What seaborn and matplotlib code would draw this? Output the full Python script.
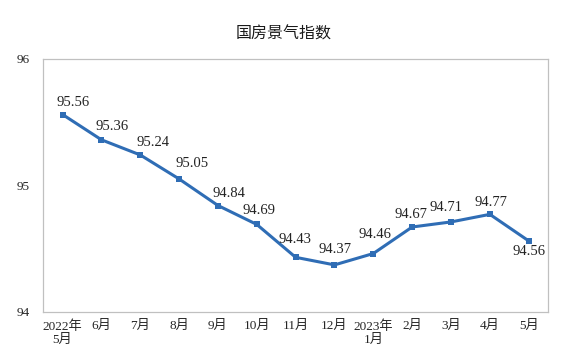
import numpy as np
import matplotlib
matplotlib.use("Agg")
from matplotlib import pyplot as plt
import seaborn as sns

# 数据
months = ['2022年\n5月', '6月', '7月', '8月', '9月', '10月', '11月', '12月',
          '2023年\n1月', '2月', '3月', '4月', '5月']
index_values = [95.56, 95.36, 95.24, 95.05, 94.84, 94.69, 94.43, 94.37,
                94.46, 94.67, 94.71, 94.77, 94.56]
y_ticks = [94, 95, 96]

# 数据标签相对数据点的偏移 (像素)
label_offsets = [(10, 12), (11, 13), (13, 12), (13, 15), (11, 12), (2, 14), (-1, 18),
                 (1, 15), (2, 19), (-1, 12), (-5, 14), (1, 12), (0, -11)]

sns.set_theme(style='white')
plt.rcParams['font.family'] = ['Liberation Serif', 'Noto Sans CJK SC', 'DejaVu Sans']

fig, ax = plt.subplots(figsize=(5.68, 3.57), dpi=100)
fig.subplots_adjust(left=0.076, right=0.965, top=0.835, bottom=0.127)

x = np.arange(len(months))
sns.lineplot(x=x, y=index_values, ax=ax, color='#2f6db5', linewidth=2.2,
             marker='s', markersize=4.5, markeredgewidth=0)

for i, v in enumerate(index_values):
    dx, dy = label_offsets[i]
    ax.annotate(f'{v:.2f}', (i, v), xytext=(dx, dy), textcoords='offset pixels',
                ha='center', va='center', fontsize=10.5, color='#222222')

ax.set_xlim(-0.5, len(months) - 0.5)
ax.set_ylim(94, 96)
ax.set_yticks(y_ticks)
ax.set_yticklabels([str(t) for t in y_ticks], fontsize=9.5)
ax.set_xticks(x)
ax.set_xticklabels(months, fontsize=9.5, linespacing=1.1)
ax.set_xticks(np.arange(len(months) + 1) - 0.5, minor=True)
ax.tick_params(axis='x', which='major', length=0, pad=6)
ax.tick_params(axis='x', which='minor', direction='in', length=6, color='#bfbfbf', width=0.8)
ax.tick_params(axis='y', length=0, pad=10)

for s in ax.spines.values():
    s.set_color('#c0c0c0')
    s.set_linewidth(0.9)

fig.text(0.5, 0.905, '国房景气指数', ha='center', va='center', fontsize=11.5,
         family=['Noto Sans CJK SC'], weight='medium', color='#1a1a1a')

plt.savefig('out.png', dpi=100)
